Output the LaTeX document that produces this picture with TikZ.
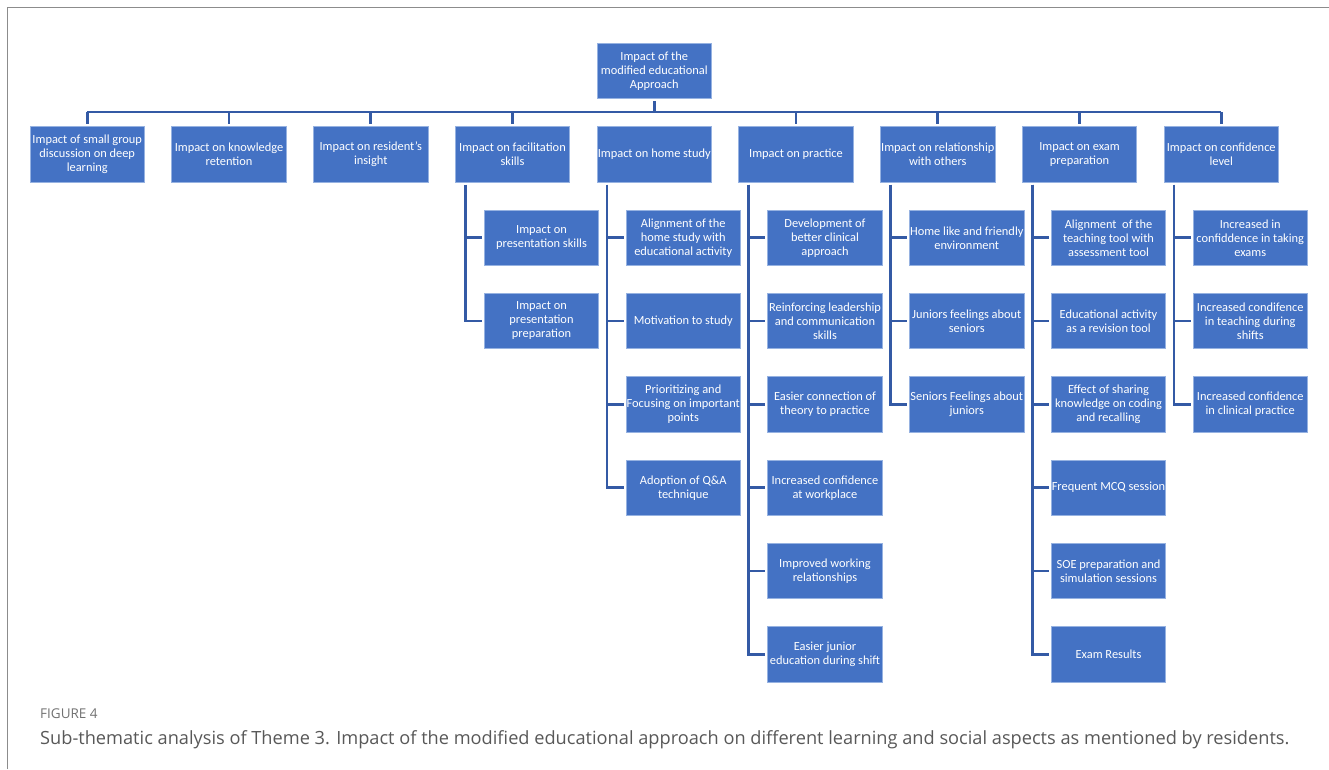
\documentclass[tikz,border=0pt]{standalone}
\usepackage{fontspec}
\setmainfont{Carlito}
\newfontfamily\capfont{Open Sans}
\usepackage{tikz}
\definecolor{boxblue}{RGB}{68,114,196}
\definecolor{boxedge}{RGB}{150,178,225}
\definecolor{linkblue}{RGB}{52,90,165}
\definecolor{capgray}{RGB}{88,88,88}

\begin{document}
\begin{tikzpicture}[x=1pt,y=-1pt,
    theme/.style={draw=boxedge,line width=0.7pt,fill=boxblue,text=white,
        minimum width=114.5pt,minimum height=55.5pt,inner sep=0pt,outer sep=2.5pt,
        align=center,font=\fontsize{12.4}{14}\selectfont},
    link/.style={draw=linkblue,line width=2.6pt}]

    \useasboundingbox (0,0) rectangle (1329,769);
    \draw[draw=gray!90,line width=1.4pt] (7.5,769) -- (7.5,7.5) -- (1329,7.5);

    \node[theme] (root) at (654.25,71) {Impact of the\\modified educational\\Approach};

    \node[theme] (a1) at (87.25,154.5)   {Impact of small group\\discussion on deep\\learning};
    \node[theme] (a2) at (229,154.5)     {Impact on knowledge\\retention};
    \node[theme] (a3) at (370.75,154.5)  {Impact on resident's\\insight};
    \node[theme] (a4) at (512.5,154.5)   {Impact on facilitation\\skills};
    \node[theme] (a5) at (654.25,154.5)  {Impact on home study};
    \node[theme] (a6) at (796,154.5)     {Impact on practice};
    \node[theme] (a7) at (937.75,154.5)  {Impact on relationship\\with others};
    \node[theme] (a8) at (1079.5,154.5)  {Impact on exam\\preparation};
    \node[theme] (a9) at (1221.25,154.5) {Impact on confidence\\level};

    \coordinate (bar) at (654.25,112);
    \draw[link] (root) -- (bar);
    \draw[link] (a1.north |- bar) -- (a9.north |- bar);
    \draw[link] (a1.north |- bar) -- (a1.north);
    \draw[link] (a2.north |- bar) -- (a2.north);
    \draw[link] (a3.north |- bar) -- (a3.north);
    \draw[link] (a4.north |- bar) -- (a4.north);
    \draw[link] (a6.north |- bar) -- (a6.north);
    \draw[link] (a7.north |- bar) -- (a7.north);
    \draw[link] (a8.north |- bar) -- (a8.north);
    \draw[link] (a9.north |- bar) -- (a9.north);

    % facilitation skills
    \node[theme] (b41) at (541.5,237.75) {Impact on\\presentation skills};
    \node[theme] (b42) at (541.5,321)    {Impact on\\presentation\\preparation};

    % home study
    \node[theme] (b51) at (683.25,237.75) {Alignment of the\\home study with\\educational activity};
    \node[theme] (b52) at (683.25,321)    {Motivation to study};
    \node[theme] (b53) at (683.25,404.4)  {Prioritizing and\\Focusing on important\\points};
    \node[theme] (b54) at (683.25,487.7)  {Adoption of Q\&A\\technique};

    % practice
    \node[theme] (b61) at (825,237.75) {Development of\\better clinical\\approach};
    \node[theme] (b62) at (825,321)    {Reinforcing leadership\\and communication\\skills};
    \node[theme] (b63) at (825,404.4)  {Easier connection of\\theory to practice};
    \node[theme] (b64) at (825,487.7)  {Increased confidence\\at workplace};
    \node[theme] (b65) at (825,571)    {Improved working\\relationships};
    \node[theme] (b66) at (825,654.3)  {Easier junior\\education during shift};

    % relationship with others
    \node[theme] (b71) at (966.75,237.75) {Home like and friendly\\environment};
    \node[theme] (b72) at (966.75,321)    {Juniors feelings about\\seniors};
    \node[theme] (b73) at (966.75,404.4)  {Seniors Feelings about\\juniors};

    % exam preparation
    \node[theme] (b81) at (1108.5,237.75) {Alignment\ \ of the\\teaching tool with\\assessment tool};
    \node[theme] (b82) at (1108.5,321)    {Educational activity\\as a revision tool};
    \node[theme] (b83) at (1108.5,404.4)  {Effect of sharing\\knowledge on coding\\and recalling};
    \node[theme] (b84) at (1108.5,487.7)  {Frequent MCQ session};
    \node[theme] (b85) at (1108.5,571)    {SOE preparation and\\simulation sessions};
    \node[theme] (b86) at (1108.5,654.3)  {Exam Results};

    % confidence level
    \node[theme] (b91) at (1250.25,237.75) {Increased in\\confiddence in taking\\exams};
    \node[theme] (b92) at (1250.25,321)    {Increased condifence\\in teaching during\\shifts};
    \node[theme] (b93) at (1250.25,404.4)  {Increased confidence\\in clinical practice};

    \draw[link] ([xshift=12.5pt]a4.south west) |- (b41.west);
    \draw[link] ([xshift=12.5pt]a4.south west) |- (b42.west);

    \draw[link] ([xshift=12.5pt]a5.south west) |- (b51.west);
    \draw[link] ([xshift=12.5pt]a5.south west) |- (b52.west);
    \draw[link] ([xshift=12.5pt]a5.south west) |- (b53.west);
    \draw[link] ([xshift=12.5pt]a5.south west) |- (b54.west);

    \draw[link] ([xshift=12.5pt]a6.south west) |- (b61.west);
    \draw[link] ([xshift=12.5pt]a6.south west) |- (b62.west);
    \draw[link] ([xshift=12.5pt]a6.south west) |- (b63.west);
    \draw[link] ([xshift=12.5pt]a6.south west) |- (b64.west);
    \draw[link] ([xshift=12.5pt]a6.south west) |- (b65.west);
    \draw[link] ([xshift=12.5pt]a6.south west) |- (b66.west);

    \draw[link] ([xshift=12.5pt]a7.south west) |- (b71.west);
    \draw[link] ([xshift=12.5pt]a7.south west) |- (b72.west);
    \draw[link] ([xshift=12.5pt]a7.south west) |- (b73.west);

    \draw[link] ([xshift=12.5pt]a8.south west) |- (b81.west);
    \draw[link] ([xshift=12.5pt]a8.south west) |- (b82.west);
    \draw[link] ([xshift=12.5pt]a8.south west) |- (b83.west);
    \draw[link] ([xshift=12.5pt]a8.south west) |- (b84.west);
    \draw[link] ([xshift=12.5pt]a8.south west) |- (b85.west);
    \draw[link] ([xshift=12.5pt]a8.south west) |- (b86.west);

    \draw[link] ([xshift=12.5pt]a9.south west) |- (b91.west);
    \draw[link] ([xshift=12.5pt]a9.south west) |- (b92.west);
    \draw[link] ([xshift=12.5pt]a9.south west) |- (b93.west);

    % caption
    \node[anchor=base west,inner sep=0pt,text=capgray!85,font=\capfont\fontsize{13.5}{15}\selectfont] (fig) at (40,718) {FIGURE 4};
    \node[anchor=base west,inner sep=0pt,text=capgray,font=\capfont\fontsize{18.2}{20}\selectfont] (cap) at (40,744)
        {Sub-thematic analysis of Theme 3. Impact of the modified educational approach on different learning and social aspects as mentioned by residents.};

\end{tikzpicture}
\end{document}
